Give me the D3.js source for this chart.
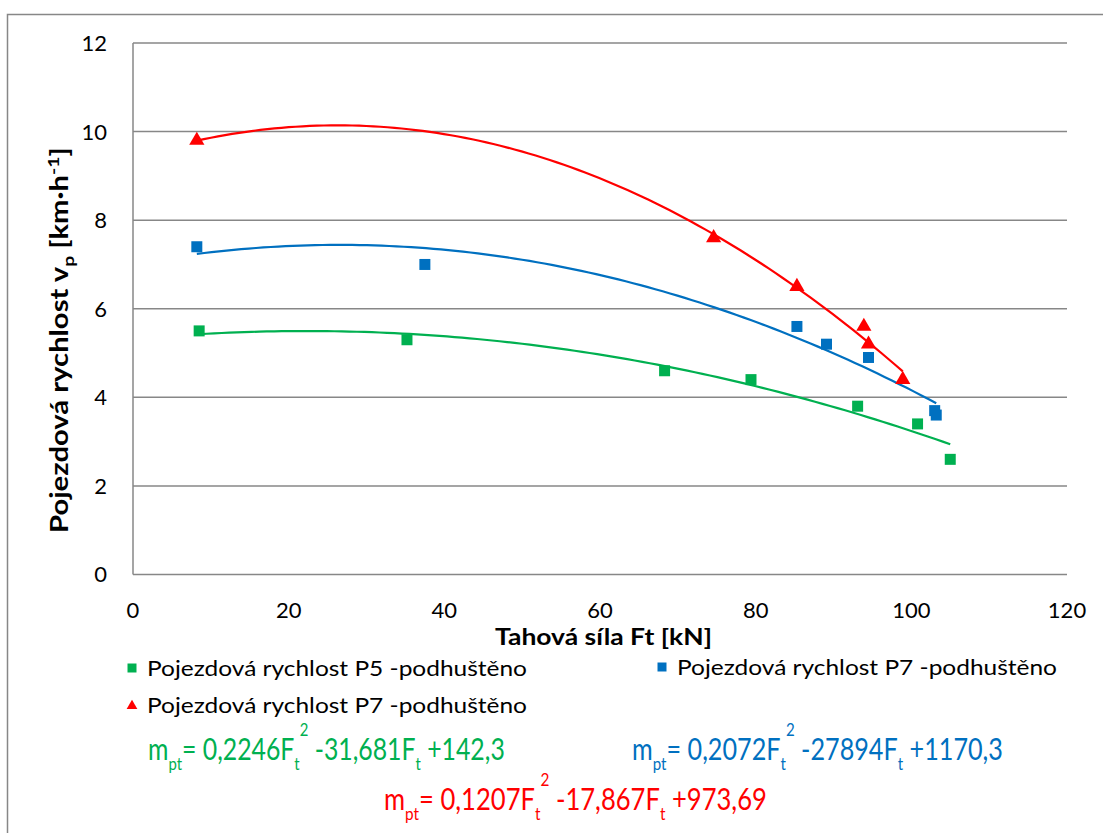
<!DOCTYPE html>
<html>
<head>
<meta charset="utf-8">
<script src="https://cdn.jsdelivr.net/npm/d3@7"></script>
<style>
  body { margin: 0; background: #fff; }
  svg { display: block; }
  text { font-family: Lato, "Open Sans", sans-serif; }
</style>
</head>
<body>
<svg id="chart" width="1103" height="833"></svg>
<script>
// Tractive force Ft [kN] and travel speed vp [km/h] for each measured series
const p5Force  = [8.5, 35.2, 68.3, 79.4, 93.1, 100.8, 105.0];
const p5Speed  = [5.5, 5.3, 4.6, 4.4, 3.8, 3.4, 2.6];
const p7bForce = [8.2, 37.5, 85.3, 89.1, 94.5, 103.0, 103.2];
const p7bSpeed = [7.4, 7.0, 5.6, 5.2, 4.9, 3.7, 3.6];
const p7rForce = [8.2, 74.6, 85.3, 93.9, 94.5, 98.9];
const p7rSpeed = [9.8, 7.6, 6.5, 5.6, 5.2, 4.4];

const seriesNames = [
  "Pojezdová rychlost P5 -podhuštěno",
  "Pojezdová rychlost P7 -podhuštěno",
  "Pojezdová rychlost P7 -podhuštěno"
];
const xTicks = [0, 20, 40, 60, 80, 100, 120];
const yTicks = [0, 2, 4, 6, 8, 10, 12];

// Trendline equations shown under the legend
const equations = [
  { parts: ["0,2246", "-31,681", "+142,3"] },
  { parts: ["0,2072", "-27894", "+1170,3"] },
  { parts: ["0,1207", "-17,867", "+973,69"] }
];

const colors = ["#00B050", "#0070C0", "#FF0000"];
const grid = "#878787";

const svg = d3.select("#chart");

// stretch a text element along its own x direction to a given width
function fitWidth(sel, x0, width, extra) {
  const w = sel.node().getComputedTextLength();
  sel.attr("transform", `${extra || ""} translate(${x0},0) scale(${width / w},1) translate(${-x0},0)`);
}

// outer chart border
svg.append("rect")
  .attr("x", 7.5).attr("y", 14.5)
  .attr("width", 1100).attr("height", 830)
  .attr("fill", "none").attr("stroke", grid).attr("stroke-width", 1.5);

const plot = { left: 133, right: 1067, top: 43, bottom: 574.5 };
const x = d3.scaleLinear().domain([0, 120]).range([plot.left, plot.right]);
const y = d3.scaleLinear().domain([0, 12]).range([plot.bottom, plot.top]);

// horizontal gridlines
svg.append("g").selectAll("line").data(yTicks.slice(1)).join("line")
  .attr("x1", plot.left).attr("x2", plot.right)
  .attr("y1", d => y(d)).attr("y2", d => y(d))
  .attr("stroke", grid).attr("stroke-width", 1.5);

// axes lines
svg.append("line")
  .attr("x1", plot.left).attr("x2", plot.right)
  .attr("y1", plot.bottom).attr("y2", plot.bottom)
  .attr("stroke", grid).attr("stroke-width", 1.5);
svg.append("line")
  .attr("x1", plot.left).attr("x2", plot.left)
  .attr("y1", plot.top).attr("y2", plot.bottom)
  .attr("stroke", grid).attr("stroke-width", 1.5);

// tick labels
svg.append("g").selectAll("text").data(yTicks).join("text")
  .attr("x", 107).attr("y", d => y(d))
  .attr("dy", "0.36em")
  .attr("text-anchor", "end")
  .attr("font-size", 22)
  .attr("fill", "#000")
  .text(d => d);
svg.append("g").selectAll("text").data(xTicks).join("text")
  .attr("x", d => x(d)).attr("y", 618)
  .attr("text-anchor", "middle")
  .attr("font-size", 22)
  .attr("fill", "#000")
  .text(d => d);

// axis titles
const xTitle = svg.append("text")
  .attr("x", 495).attr("y", 645)
  .attr("font-size", 23).attr("font-weight", "bold")
  .text("Tahová síla Ft [kN]");
fitWidth(xTitle, 495, 217);

const yTitle = svg.append("text")
  .attr("x", 0).attr("y", 0)
  .attr("font-size", 24).attr("font-weight", "bold");
yTitle.append("tspan").text("Pojezdová rychlost v");
yTitle.append("tspan").attr("font-size", 16).attr("dy", 6).text("p");
yTitle.append("tspan").attr("dy", -6).text(" [km·h");
yTitle.append("tspan").attr("font-size", 16).attr("dy", -9).text("-1");
yTitle.append("tspan").attr("dy", 9).text("]");
fitWidth(yTitle, 0, 386, "translate(68,533) rotate(-90)");

// least-squares quadratic fit
function quadFit(xs, ys) {
  const n = xs.length;
  let s = [0, 0, 0, 0, 0], t = [0, 0, 0];
  for (let i = 0; i < n; i++) {
    const xi = xs[i], yi = ys[i];
    for (let k = 0; k <= 4; k++) s[k] += Math.pow(xi, k);
    for (let k = 0; k <= 2; k++) t[k] += yi * Math.pow(xi, k);
  }
  const A = [[s[0], s[1], s[2]], [s[1], s[2], s[3]], [s[2], s[3], s[4]]];
  const b = t.slice();
  for (let c = 0; c < 3; c++) {
    for (let r = c + 1; r < 3; r++) {
      const f = A[r][c] / A[c][c];
      for (let k = c; k < 3; k++) A[r][k] -= f * A[c][k];
      b[r] -= f * b[c];
    }
  }
  const coef = [0, 0, 0];
  for (let r = 2; r >= 0; r--) {
    let v = b[r];
    for (let k = r + 1; k < 3; k++) v -= A[r][k] * coef[k];
    coef[r] = v / A[r][r];
  }
  return xv => coef[0] + coef[1] * xv + coef[2] * xv * xv;
}

const series = [
  { xs: p5Force, ys: p5Speed, shape: "square" },
  { xs: p7bForce, ys: p7bSpeed, shape: "square" },
  { xs: p7rForce, ys: p7rSpeed, shape: "triangle" }
];

const line = d3.line().x(d => x(d[0])).y(d => y(d[1]));

series.forEach((s, i) => {
  const f = quadFit(s.xs, s.ys);
  const [lo, hi] = d3.extent(s.xs);
  const pts = d3.range(0, 101).map(k => {
    const xv = lo + (hi - lo) * k / 100;
    return [xv, f(xv)];
  });
  svg.append("path")
    .attr("d", line(pts))
    .attr("fill", "none")
    .attr("stroke", colors[i])
    .attr("stroke-width", 2.2);
});

// markers on top of trendlines
series.forEach((s, i) => {
  const sym = s.shape === "square"
    ? d3.symbol().type(d3.symbolSquare).size(121)
    : d3.symbol().type(d3.symbolTriangle).size(100);
  svg.append("g").selectAll("path").data(s.xs.map((xv, j) => [xv, s.ys[j]])).join("path")
    .attr("transform", d => `translate(${x(d[0])},${y(d[1])})`)
    .attr("d", sym())
    .attr("fill", colors[i]);
});

// legend
const legendItems = [
  { x: 132, y: 668, tx: 147, ty: 676, shape: "square" },
  { x: 662, y: 667, tx: 677, ty: 675, shape: "square" },
  { x: 132, y: 706, tx: 147, ty: 713, shape: "triangle" }
];
legendItems.forEach((it, i) => {
  const sym = it.shape === "square"
    ? d3.symbol().type(d3.symbolSquare).size(81)
    : d3.symbol().type(d3.symbolTriangle).size(50);
  svg.append("path")
    .attr("transform", `translate(${it.x},${it.y})`)
    .attr("d", sym())
    .attr("fill", colors[i]);
  svg.append("text")
    .attr("x", it.tx).attr("y", it.ty)
    .attr("font-size", 22).attr("fill", "#000")
    .attr("textLength", 380).attr("lengthAdjust", "spacingAndGlyphs")
    .text(seriesNames[i]);
});

// trendline equations
const eqPos = [
  { x: 148, y: 760, w: 357 },
  { x: 632, y: 760, w: 371 },
  { x: 384, y: 810, w: 383 }
];
equations.forEach((eq, i) => {
  const p = eqPos[i];
  const t = svg.append("text")
    .attr("x", p.x).attr("y", p.y)
    .attr("font-size", 30).attr("fill", colors[i]);
  t.append("tspan").text("m");
  t.append("tspan").attr("font-size", 18).attr("dy", 10).text("pt");
  t.append("tspan").attr("dy", -10).text("= " + eq.parts[0] + "F");
  t.append("tspan").attr("font-size", 18).attr("dy", 10).text("t");
  t.append("tspan").attr("font-size", 18).attr("dy", -34).text("2");
  t.append("tspan").attr("dy", 24).text(" " + eq.parts[1] + "F");
  t.append("tspan").attr("font-size", 18).attr("dy", 10).text("t");
  t.append("tspan").attr("dy", -10).text(" " + eq.parts[2]);
  fitWidth(t, p.x, p.w);
});
</script>
</body>
</html>
